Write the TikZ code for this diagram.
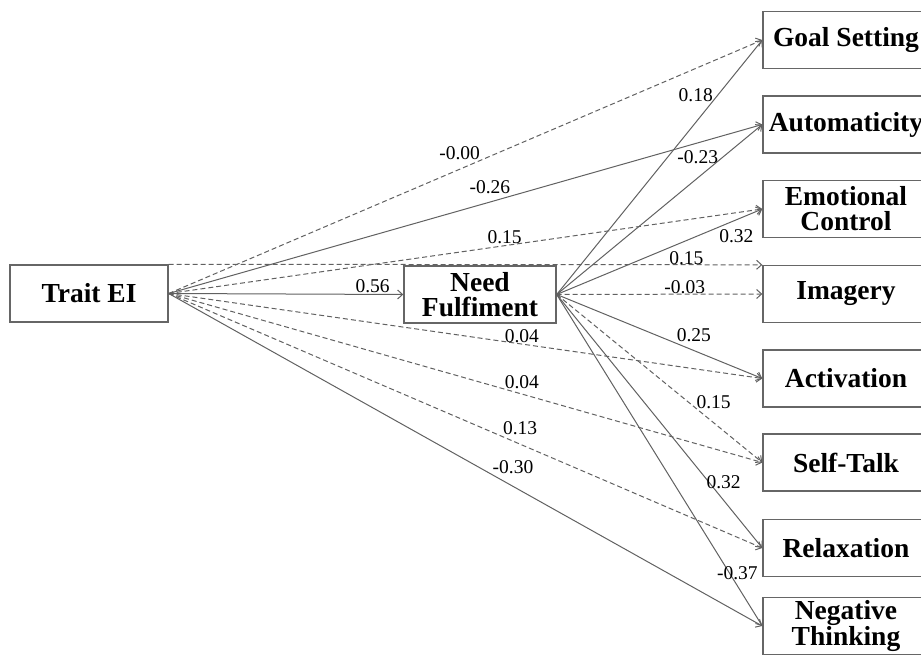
\documentclass[tikz,border=0pt]{standalone}
\usepackage{fontspec}
\setmainfont{Liberation Serif}
\usetikzlibrary{arrows.meta}

\begin{document}
\begin{tikzpicture}[x=1pt, y=-1pt,
    var/.style={draw=black!60, line width=1.4pt, fill=white, align=center,
      font=\fontsize{27.5}{25}\selectfont\bfseries, inner sep=1pt, minimum height=57pt},
    outcome/.style={var, minimum width=166pt},
    eff/.style={draw=black!62, line width=1pt, -{Straight Barb[length=5pt,width=9pt]}},
    nseff/.style={eff, dash pattern=on 5pt off 3pt},
    coef/.style={font=\fontsize{19.5}{19}\selectfont, text=black, inner sep=0pt}
  ]
    \useasboundingbox (0,0) rectangle (921,655);

    \node[var, minimum width=158pt] (trait) at (89,293.5) {Trait EI};
    \node[var, minimum width=152pt] (need) at (480,294.5) {Need\\Fulfiment};

    \node[outcome] (goal)  at (846,40)    {Goal Setting};
    \node[outcome] (auto)  at (846,124.5) {Automaticity};
    \node[outcome] (emo)   at (846,209)   {Emotional\\Control};
    \node[outcome] (img)   at (846,294)   {Imagery};
    \node[outcome] (act)   at (846,378.5) {Activation};
    \node[outcome] (self)  at (846,462.5) {Self-Talk};
    \node[outcome] (relax) at (846,548)   {Relaxation};
    \node[outcome] (neg)   at (846,626)   {Negative\\Thinking};

    % direct paths from trait EI
    \draw[nseff] (trait.east) -- (goal.west) node[coef, pos=0.49, yshift=16pt] {-0.00};
    \draw[eff] (trait.east) -- (auto.west) node[coef, pos=0.541, yshift=14.5pt] {-0.26};
    \draw[nseff] (trait.east) -- (emo.west) node[coef, pos=0.566, yshift=9pt] {0.15};
    \draw[nseff] (trait.north east) -- (img.north west) node[coef, pos=0.872, yshift=7pt] {0.15};
    \draw[nseff] (trait.east) -- (act.west) node[coef, pos=0.595, yshift=8pt] {0.04};
    \draw[nseff] (trait.east) -- (self.west) node[coef, pos=0.595, yshift=12pt] {0.04};
    \draw[nseff] (trait.east) -- (relax.west) node[coef, pos=0.592, yshift=16pt] {0.13};
    \draw[eff] (trait.east) -- (neg.west) node[coef, pos=0.58, yshift=19pt] {-0.30};
    \draw[eff] (trait.east) -- (need.west) node[coef, pos=0.869, yshift=8pt] {0.56};

    % paths from need fulfiment
    \draw[eff] (need.east) -- (goal.west) node[coef, pos=0.676, yshift=27pt] {0.18};
    \draw[eff] (need.east) -- (auto.west) node[coef, pos=0.686, yshift=21pt] {-0.23};
    \draw[eff] (need.east) -- (emo.west) node[coef, pos=0.874, yshift=-16pt] {0.32};
    \draw[nseff] (need.east) -- (img.west) node[coef, pos=0.623, yshift=7pt] {-0.03};
    \draw[eff] (need.east) -- (act.west) node[coef, pos=0.667, yshift=15pt] {0.25};
    \draw[nseff] (need.east) -- (self.west) node[coef, pos=0.763, yshift=21pt] {0.15};
    \draw[eff] (need.east) -- (relax.west) node[coef, pos=0.812, yshift=18pt] {0.32};
    \draw[eff] (need.east) -- (neg.west) node[coef, pos=0.879, yshift=13pt] {-0.37};
\end{tikzpicture}
\end{document}
